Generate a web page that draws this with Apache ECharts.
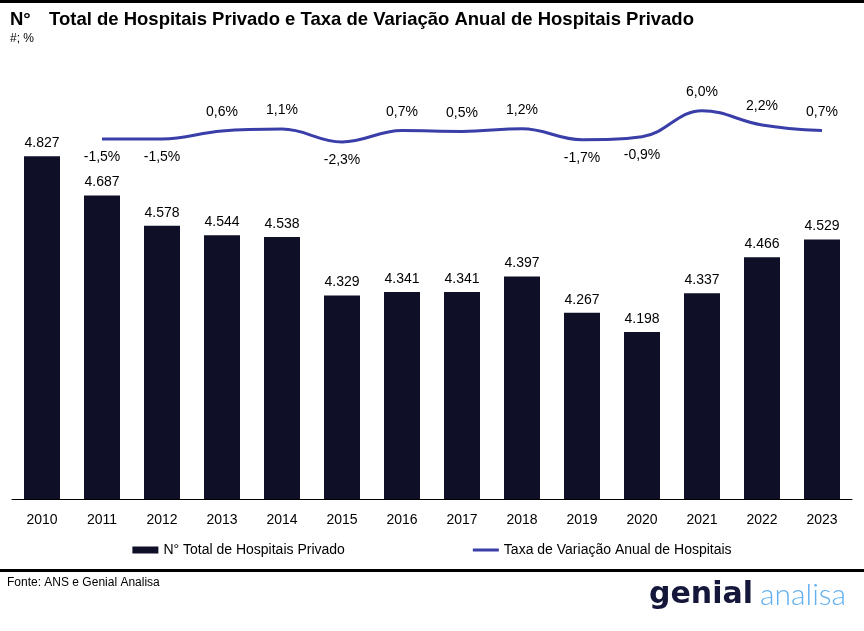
<!DOCTYPE html>
<html>
<head>
<meta charset="utf-8">
<script src="https://cdn.jsdelivr.net/npm/echarts@6/dist/echarts.min.js"></script>
<style>html,body{margin:0;padding:0;background:#fff}#c{width:864px;height:631px}</style>
</head>
<body>
<div id="c"></div>
<script>
const years = ['2010','2011','2012','2013','2014','2015','2016','2017','2018','2019','2020','2021','2022','2023'];
const hospitals = [4827,4687,4578,4544,4538,4329,4341,4341,4397,4267,4198,4337,4466,4529];
const growth = [null,-1.5,-1.5,0.6,1.1,-2.3,0.7,0.5,1.2,-1.7,-0.9,6.0,2.2,0.7];
const barName = 'N° Total de Hospitais Privado';
const lineName = 'Taxa de Variação Anual de Hospitais';

const FONT = 'Liberation Sans';
const chart = echarts.init(document.getElementById('c'), null, {renderer:'canvas'});

const lineData = growth.map(v => v === null ? '-' : {
  value: v,
  label: {position: v < 0 ? 'bottom' : 'top'}
});

chart.setOption({
  animation: false,
  backgroundColor: '#fff',
  grid: {left: 12, right: 12, top: 108, bottom: 132, containLabel: false},
  xAxis: {
    type: 'category', data: years,
    axisLine: {onZero: false, lineStyle: {color: '#000', width: 1}},
    axisTick: {show: false},
    axisLabel: {color: '#000', fontFamily: FONT, fontSize: 14, margin: 14}
  },
  yAxis: [
    {type: 'value', min: 3600, max: 5000, show: false, splitLine: {show: false}},
    {type: 'value', min: -97, max: 6.7, show: false, splitLine: {show: false}}
  ],
  legend: {
    left: 'center', top: 538, itemGap: 128,
    itemWidth: 26, itemHeight: 7,
    textStyle: {color: '#000', fontFamily: FONT, fontSize: 14},
    data: [
      {name: barName, icon: 'rect'},
      {name: lineName, icon: 'path://M0,0L26,0L26,3L0,3Z', itemStyle: {color: '#3a3ea8'}}
    ]
  },
  series: [
    {
      name: barName, type: 'bar', data: hospitals, barWidth: '60%',
      itemStyle: {color: '#0f0f28'},
      label: {
        show: true, position: 'top', distance: 6, color: '#000',
        fontFamily: FONT, fontSize: 14,
        formatter: p => p.value.toString().replace(/\B(?=(\d{3})+(?!\d))/g, '.')
      }
    },
    {
      name: lineName, type: 'line', yAxisIndex: 1, data: lineData,
      smooth: 0.4, symbol: 'circle', symbolSize: 1, showSymbol: true,
      connectNulls: false,
      lineStyle: {color: '#3a3ea8', width: 3},
      itemStyle: {color: 'rgba(58,62,168,0)'},
      label: {
        show: true, distance: 11, color: '#000',
        fontFamily: FONT, fontSize: 14,
        formatter: p => p.value.toFixed(1).replace('.', ',') + '%'
      }
    }
  ],
  graphic: [
    {type: 'rect', shape: {x: 0, y: 0, width: 864, height: 3}, style: {fill: '#000'}},
    {type: 'text', left: 10, top: 10, style: {text: 'N°', font: 'bold 18.5px "Liberation Sans"', fill: '#000'}},
    {type: 'text', left: 49, top: 10, style: {text: 'Total de Hospitais Privado e Taxa de Variação Anual de Hospitais Privado', font: 'bold 18.5px "Liberation Sans"', fill: '#000'}},
    {type: 'text', left: 10, top: 33, style: {text: '#; %', font: '12px "Liberation Sans"', fill: '#000'}},
    {type: 'rect', shape: {x: 0, y: 569, width: 864, height: 3}, style: {fill: '#000'}},
    {type: 'text', left: 7, top: 577, style: {text: 'Fonte: ANS e Genial Analisa', font: '12px "Liberation Sans"', fill: '#000'}},
    {type: 'text', left: 649, top: 580, style: {text: 'genial', font: 'bold 30px "DejaVu Sans"', fill: '#14173a'}},
    {type: 'text', left: 760, top: 580, style: {text: 'analisa', font: '300 30px "Lato"', fill: '#62b0f0'}}
  ]
});
</script>
</body>
</html>
